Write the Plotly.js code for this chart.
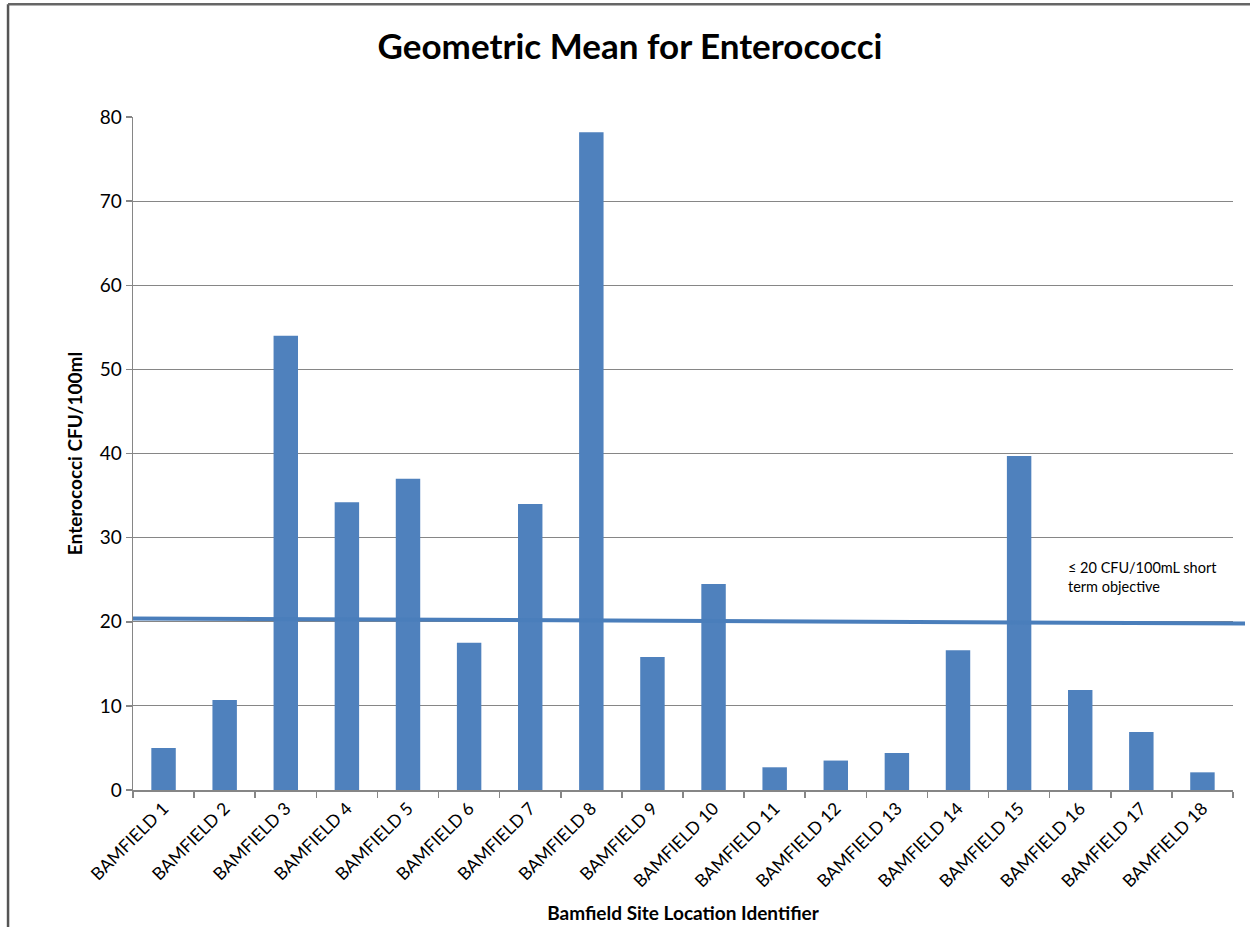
<!DOCTYPE html>
<html>
<head>
<meta charset="utf-8">
<script src="https://cdn.plot.ly/plotly-3.0.1.min.js"></script>
<style>
html,body{margin:0;padding:0;background:#fff;}
#chart{width:1250px;height:927px;}
</style>
</head>
<body>
<div id="chart"></div>
<script>
const sites = ["BAMFIELD 1","BAMFIELD 2","BAMFIELD 3","BAMFIELD 4","BAMFIELD 5","BAMFIELD 6","BAMFIELD 7","BAMFIELD 8","BAMFIELD 9","BAMFIELD 10","BAMFIELD 11","BAMFIELD 12","BAMFIELD 13","BAMFIELD 14","BAMFIELD 15","BAMFIELD 16","BAMFIELD 17","BAMFIELD 18"];
const geoMean = [5.0,10.7,54.0,34.2,37.0,17.5,34.0,78.2,15.8,24.5,2.7,3.5,4.4,16.6,39.7,11.9,6.9,2.1];
const objectiveLine = [20.4, 19.8];
const objectiveLabel = "≤ 20 CFU/100mL short<br>term objective";
const yTicks = [0,10,20,30,40,50,60,70,80];

const FONT = "Lato, 'Open Sans', sans-serif";
const barColor = "#4F81BD";

const data = [{
  type: "bar",
  x: sites,
  y: geoMean,
  marker: {color: barColor},
  width: 0.4,
  hoverinfo: "x+y"
}];

const layout = {
  width: 1250, height: 927,
  margin: {l: 133, r: 17, t: 117, b: 137},
  paper_bgcolor: "#fff", plot_bgcolor: "#fff",
  showlegend: false,
  font: {family: FONT, color: "#000"},
  title: {
    text: "<b>Geometric Mean for Enterococci</b>",
    font: {family: FONT, size: 35, color: "#000"},
    x: 0.504, xanchor: "center", xref: "container",
    y: 0.950, yanchor: "middle", yref: "container"
  },
  xaxis: {
    type: "category",
    tickangle: -45,
    tickfont: {family: FONT, size: 17.5, color: "#000"},
    ticks: "outside", ticklen: 6, tickcolor: "#868686", tickwidth: 1.5,
    tickson: "boundaries",
    showline: true, linecolor: "#868686", linewidth: 1.5,
    showgrid: false,
    title: {text: "<b>Bamfield Site Location Identifier</b>", font: {family: FONT, size: 19, color: "#000"}, standoff: 16}
  },
  yaxis: {
    range: [0, 80],
    tickvals: yTicks,
    tickfont: {family: FONT, size: 19, color: "#000"},
    ticks: "outside", ticklen: 6, tickcolor: "#868686", tickwidth: 1.5,
    showline: true, linecolor: "#868686", linewidth: 1.5,
    showgrid: true, gridcolor: "#868686", gridwidth: 1,
    zeroline: false,
    title: {text: "<b>Enterococci CFU/100ml</b>", font: {family: FONT, size: 19, color: "#000"}, standoff: 12}
  },
  shapes: [
    {type: "line", xref: "paper", yref: "y", x0: 0, x1: 1.0109, y0: objectiveLine[0], y1: objectiveLine[1],
     line: {color: "#4A7EBB", width: 4}, layer: "above"},
    {type: "line", xref: "paper", yref: "paper", x0: -0.1136, x1: -0.1136, y0: -0.3, y1: 1.1675,
     line: {color: "#555", width: 2.5}},
    {type: "line", xref: "paper", yref: "paper", x0: -0.1136, x1: 1.03, y0: 1.1675, y1: 1.1675,
     line: {color: "#666", width: 2.5}}
  ],
  annotations: [
    {text: objectiveLabel, xref: "paper", yref: "y", x: 0.848, y: 25.3,
     xanchor: "left", yanchor: "middle", align: "left", showarrow: false,
     font: {family: FONT, size: 14.5, color: "#000"}}
  ]
};

Plotly.newPlot("chart", data, layout, {displayModeBar: false, staticPlot: true});
</script>
</body>
</html>
